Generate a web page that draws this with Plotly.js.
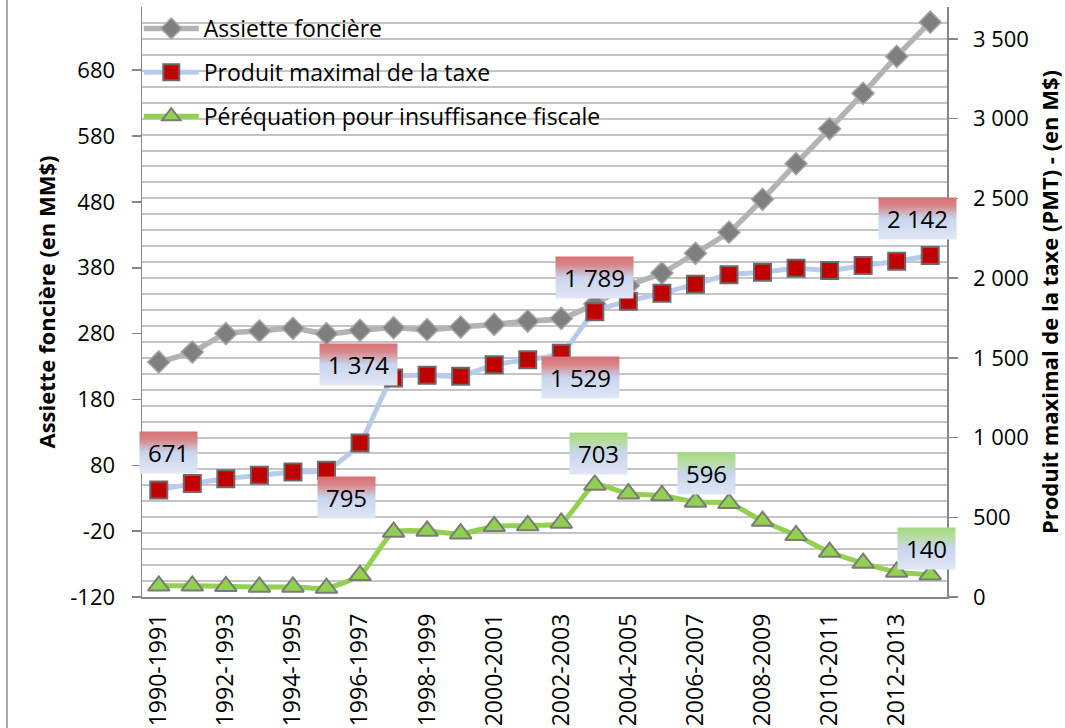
<!DOCTYPE html>
<html><head><meta charset="utf-8">
<script src="https://cdn.plot.ly/plotly-3.0.1.min.js"></script>
<style>html,body{margin:0;padding:0;background:#fff}</style>
</head><body><div id="chart" style="width:1065px;height:728px"></div>
<script>
const categories = ['1990-1991','1991-1992','1992-1993','1993-1994','1994-1995','1995-1996','1996-1997','1997-1998',
  '1998-1999','1999-2000','2000-2001','2001-2002','2002-2003','2003-2004','2004-2005','2005-2006','2006-2007',
  '2007-2008','2008-2009','2009-2010','2010-2011','2011-2012','2012-2013','2013-2014'];
const assiette = [237,252,280,284,288,280,285,289,286,290,294,299,303,325,353,372,402,434,484,538,591,645,701,753];
const pmt = [671,711,742,763,784,795,965,1374,1390,1385,1457,1488,1529,1789,1855,1905,1962,2021,2037,2062,2048,2079,2106,2142];
const pereq = [70,70,67,63,63,56,136,407,414,397,443,449,464,703,648,637,596,588,476,387,282,213,157,140];
const tickLabels = categories.filter((c, i) => i % 2 === 0);
const leftTicks = [-120, -20, 80, 180, 280, 380, 480, 580, 680];
const leftTickText = leftTicks.map(v => String(v));
const seriesNames = ['Assiette foncière', 'Produit maximal de la taxe', 'Péréquation pour insuffisance fiscale'];
const pmtLabelIdx = [0, 5, 7, 12, 13, 23];
const pereqLabelIdx = [13, 16, 23];

// label box offsets (pixels) relative to their points
const pmtLabelShift = [[10,38],[20,-27],[-35,13],[19,-24],[0,34],[-13,37]];
const pereqLabelShift = [[4,31],[11,28],[-4,26]];

const FONT = 'Open Sans, Noto Sans, sans-serif';
function fmt(v){ return String(v).replace(/\B(?=(\d{3})+(?!\d))/g, ' '); }

const traces = [
  {x: categories, y: assiette, name: seriesNames[0], type: 'scatter', mode: 'lines+markers', yaxis: 'y',
   legendgroup: 'a',
   line: {color: '#b3b3b3', width: 5.5, shape: 'spline', smoothing: 0.6},
   marker: {symbol: 'diamond', size: 17, color: '#7f7f7f', line: {color: '#a6a6a6', width: 1.5}}},
  {x: categories, y: pmt, name: seriesNames[1], type: 'scatter', mode: 'lines+markers', yaxis: 'y2',
   legendgroup: 'b',
   line: {color: '#b8cbea', width: 5, shape: 'spline', smoothing: 0.6},
   marker: {symbol: 'square', size: 17, color: '#c00000', line: {color: '#6a6a6a', width: 2}}},
  {x: categories, y: pereq, name: seriesNames[2], type: 'scatter', mode: 'lines+markers', yaxis: 'y2',
   legendgroup: 'c',
   line: {color: '#92d050', width: 5, shape: 'spline', smoothing: 0.6},
   marker: {symbol: 'triangle-up', size: 19, color: '#92d050', line: {color: '#7a7a7a', width: 2}}}
];

const annotations = [];
pmtLabelIdx.forEach((i, k) => {
  const t = fmt(pmt[i]);
  annotations.push({x: categories[i], y: pmt[i], xref: 'x', yref: 'y2', text: t, showarrow: false,
    xshift: pmtLabelShift[k][0], yshift: pmtLabelShift[k][1],
    width: t.length > 3 ? 77 : 57, height: 41, borderpad: 0, bgcolor: '#d9787a',
    font: {family: FONT, size: 24, color: '#000'}});
});
pereqLabelIdx.forEach((i, k) => {
  const t = fmt(pereq[i]);
  annotations.push({x: categories[i], y: pereq[i], xref: 'x', yref: 'y2', text: t, showarrow: false,
    xshift: pereqLabelShift[k][0], yshift: pereqLabelShift[k][1],
    width: t.length > 3 ? 77 : 57, height: 41, borderpad: 0, bgcolor: '#a5d884',
    font: {family: FONT, size: 24, color: '#000'}});
});

const axisLine = '#868686';
const gridCol = '#c4c4c4';
const layout = {
  width: 1065, height: 728,
  margin: {l: 142, r: 118, t: 7, b: 131},
  paper_bgcolor: '#fff', plot_bgcolor: '#fff',
  separators: ', ',
  font: {family: FONT, color: '#000'},
  hovermode: false,
  showlegend: true,
  legend: {x: -0.004, y: 1.0, xanchor: 'left', yanchor: 'top', bgcolor: 'rgba(0,0,0,0)',
    font: {family: FONT, size: 23, color: '#000'}, traceorder: 'grouped', tracegroupgap: 11, itemwidth: 55},
  xaxis: {type: 'category', range: [-0.5, categories.length - 0.5], tickmode: 'array', tickvals: tickLabels, ticktext: tickLabels, tickangle: -90,
    showgrid: false, showline: true, linecolor: axisLine, linewidth: 1.5, ticks: '',
    tickfont: {family: FONT, size: 23, color: '#000'}, ticklabelstandoff: 6},
  yaxis: {range: [-120, 776], tickmode: 'array', tickvals: leftTicks, ticktext: leftTickText,
    ticks: 'outside', ticklen: 9, tickcolor: axisLine, tickwidth: 1.5,
    showgrid: false, zeroline: false, showline: true, linecolor: axisLine, linewidth: 1.5,
    tickfont: {family: FONT, size: 22, color: '#000'}, ticklabelstandoff: 12,
    title: {text: 'Assiette foncière (en MM$)', font: {family: FONT, size: 22, weight: 'bold', color: '#000'}, standoff: 8}},
  yaxis2: {overlaying: 'y', side: 'right', range: [0, 3700], dtick: 500, tickformat: ',d',
    ticks: 'outside', ticklen: 9, tickcolor: axisLine, tickwidth: 1.5,
    showgrid: true, gridcolor: gridCol, gridwidth: 2, zeroline: false, showline: true, linecolor: axisLine, linewidth: 1.5,
    minor: {dtick: 100, showgrid: true, gridcolor: gridCol, gridwidth: 2, ticks: ''},
    tickfont: {family: FONT, size: 22, color: '#000'}, ticklabelstandoff: 11,
    title: {text: 'Produit maximal de la taxe (PMT) - (en M$)', font: {family: FONT, size: 22, weight: 'bold', color: '#000'}, standoff: 14}},
  annotations: annotations,
  shapes: [{type: 'line', xref: 'paper', yref: 'paper', x0: -0.1677, x1: -0.1677, y0: -0.3, y1: 1.1,
    line: {color: '#8a8a8a', width: 1.5}}]
};

Plotly.newPlot('chart', traces, layout, {staticPlot: true}).then(gd => {
  const NS = 'http://www.w3.org/2000/svg';
  const svg = gd.querySelector('svg.main-svg');
  let defs = svg.querySelector('defs');
  if (!defs) { defs = document.createElementNS(NS, 'defs'); svg.insertBefore(defs, svg.firstChild); }
  function grad(id, stops) {
    const g = document.createElementNS(NS, 'linearGradient');
    g.setAttribute('id', id); g.setAttribute('x1', '0'); g.setAttribute('y1', '0'); g.setAttribute('x2', '0'); g.setAttribute('y2', '1');
    stops.forEach(s => { const st = document.createElementNS(NS, 'stop'); st.setAttribute('offset', s[0]); st.setAttribute('stop-color', s[1]); g.appendChild(st); });
    defs.appendChild(g);
  }
  grad('gRed', [[0, '#d66f72'], [0.2, '#d98689'], [0.5, '#c8d5ee'], [1, '#dfe7f5']]);
  grad('gGreen', [[0, '#a3d87e'], [0.2, '#b5dd9c'], [0.5, '#c8d5ee'], [1, '#dfe7f5']]);
  const anns = gd.querySelectorAll('g.annotation');
  anns.forEach((a, k) => {
    const r = a.querySelector('rect.bg');
    if (r) r.style.fill = k < pmtLabelIdx.length ? 'url(#gRed)' : 'url(#gGreen)';
  });
});
</script>
</body></html>
